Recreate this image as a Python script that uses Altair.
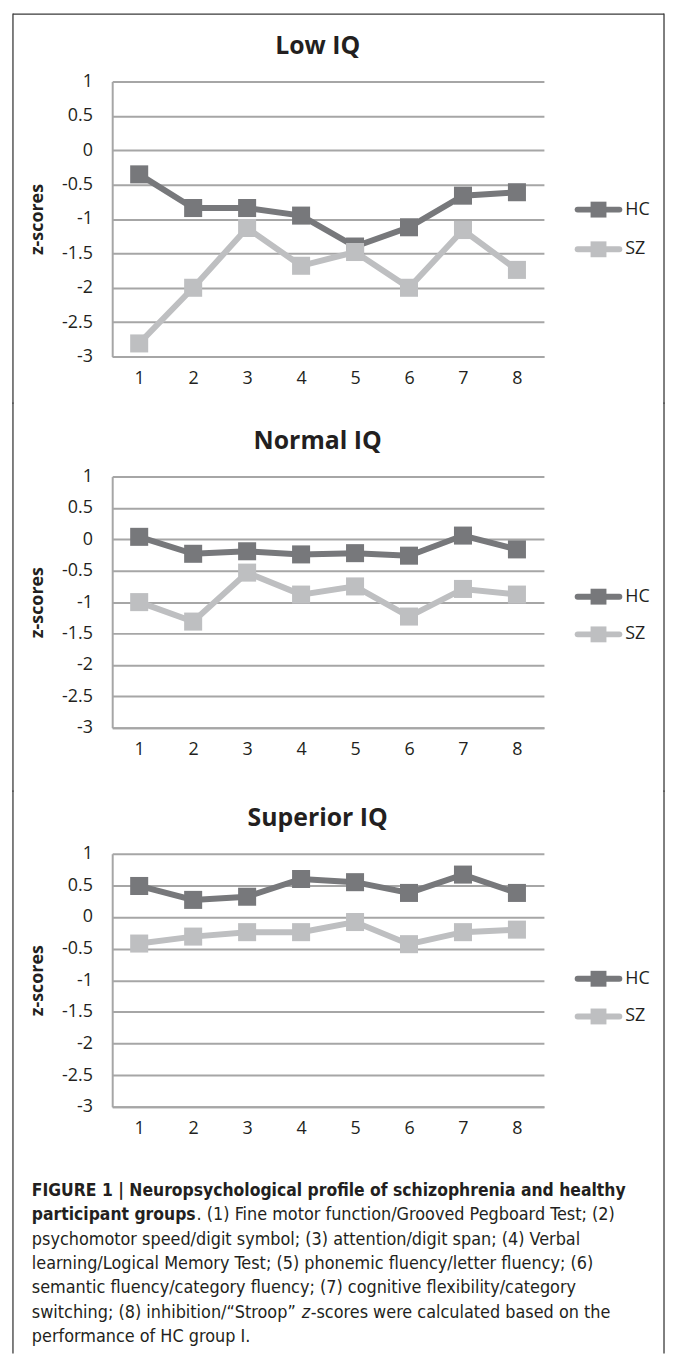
import altair as alt
import pandas as pd

# ---------------- data ----------------
tests = ["1", "2", "3", "4", "5", "6", "7", "8"]
series_names = ["HC", "SZ"]
panel_titles = ["Low IQ", "Normal IQ", "Superior IQ"]
y_ticks = [-3, -2.5, -2, -1.5, -1, -0.5, 0, 0.5, 1]

low_hc = [-0.35, -0.84, -0.84, -0.95, -1.40, -1.12, -0.66, -0.61]
low_sz = [-2.81, -2.00, -1.13, -1.68, -1.48, -2.00, -1.16, -1.74]
normal_hc = [0.04, -0.23, -0.19, -0.24, -0.22, -0.26, 0.06, -0.16]
normal_sz = [-1.00, -1.31, -0.53, -0.88, -0.75, -1.23, -0.79, -0.88]
superior_hc = [0.49, 0.27, 0.32, 0.60, 0.55, 0.38, 0.67, 0.38]
superior_sz = [-0.42, -0.31, -0.24, -0.24, -0.08, -0.43, -0.24, -0.20]

y_title = "z-scores"

cap_line1 = "FIGURE 1 | Neuropsychological profile of schizophrenia and healthy"
cap_line2_bold = "participant groups"
cap_line2_rest = ". (1) Fine motor function/Grooved Pegboard Test; (2)"
cap_line3 = "psychomotor speed/digit symbol; (3) attention/digit span; (4) Verbal"
cap_line4 = "learning/Logical Memory Test; (5) phonemic fluency/letter fluency; (6)"
cap_line5 = "semantic fluency/category fluency; (7) cognitive flexibility/category"
cap_line6_a = "switching; (8) inhibition/\u201cStroop\u201d"
cap_line6_z = "z"
cap_line6_b = "-scores were calculated based on the"
cap_line7 = "performance of HC group I."

# ---------------- style ----------------
HC_COL = "#77787b"
SZ_COL = "#bebfc1"
GRID = "#a6a6a6"
FRAME = "#3a3a3a"
TXT = "#231f20"
FONT = "Open Sans"
CAP_FONT = "DejaVu Sans Condensed, sans-serif"
W = 435
SER_COL = {"HC": HC_COL, "SZ": SZ_COL}


def one(df_col, val):
    return pd.DataFrame({df_col: [val]})


def text_layer(txt, x, y, size, weight="normal", style="normal", font=FONT, align="left"):
    return alt.Chart(one("t", txt)).mark_text(
        font=font, fontSize=size, fontWeight=weight, fontStyle=style,
        color=TXT, align=align, baseline="middle"
    ).encode(text="t:N", x=alt.value(x), y=alt.value(y))


def vrule(x, y1, y2):
    return alt.Chart(one("a", 0)).mark_rule(
        color=FRAME, strokeWidth=1.3, strokeCap="square"
    ).encode(x=alt.value(x), y=alt.value(y1), y2=alt.value(y2))


def panel(title, hc, sz, H, top_rel, bottom_rel, legend_y, top_line=False, extra=None):
    df = pd.DataFrame({
        "test": tests * 2,
        "series": ["HC"] * len(tests) + ["SZ"] * len(tests),
        "z": hc + sz,
    })
    base = alt.Chart(df).encode(
        x=alt.X("test:O", sort=tests,
                scale=alt.Scale(type="point", padding=0.5),
                axis=alt.Axis(title=None, labelAngle=0, ticks=False, labelPadding=13,
                              domainColor=GRID, domainWidth=2, grid=False,
                              labelFont=FONT, labelFontSize=18, labelColor=TXT)),
        y=alt.Y("z:Q", scale=alt.Scale(domain=[-3, 1], nice=False, zero=False),
                axis=alt.Axis(values=y_ticks, labelExpr="'' + datum.value",
                              ticks=False, labelPadding=20, grid=True,
                              gridColor=GRID, gridWidth=2, domainColor=GRID, domainWidth=2,
                              labelFont=FONT, labelFontSize=18, labelColor=TXT,
                              title=y_title, titleFont=FONT, titleFontSize=18,
                              titleFontWeight="bold", titleColor=TXT,
                              titleAngle=270, titleX=-75, titleY=H / 2,
                              titleBaseline="middle", titleAlign="center")),
        color=alt.Color("series:N",
                        scale=alt.Scale(domain=series_names, range=[HC_COL, SZ_COL]),
                        legend=None),
    )
    layers = []
    for s in series_names:
        f = base.transform_filter(alt.datum.series == s)
        layers.append(f.mark_line(strokeWidth=6))
        layers.append(f.mark_point(shape="square", filled=True, size=330, opacity=1))
    # legend (drawn by hand: line with a square in the middle)
    for s, ly in zip(series_names, legend_y):
        c = SER_COL[s]
        layers.append(alt.Chart(one("series", s)).mark_rule(
            color=c, strokeWidth=6, strokeCap="round"
        ).encode(x=alt.value(469), x2=alt.value(511), y=alt.value(ly)))
        layers.append(alt.Chart(one("series", s)).mark_point(
            shape="square", filled=True, size=256, opacity=1, color=c
        ).encode(x=alt.value(490), y=alt.value(ly)))
        layers.append(alt.Chart(one("series", s)).mark_text(
            font=FONT, fontSize=18, color=TXT, align="left", baseline="middle"
        ).encode(text="series:N", x=alt.value(517), y=alt.value(ly)))
    # panel title
    layers.append(text_layer(title, 207, -36, 25, weight="bold", align="center"))
    # frame
    layers.append(vrule(-100, top_rel, bottom_rel))
    layers.append(vrule(556, top_rel, bottom_rel))
    if top_line:
        layers.append(alt.Chart(one("a", 0)).mark_rule(color=FRAME, strokeWidth=1.3).encode(
            x=alt.value(-100), x2=alt.value(556), y=alt.value(top_rel)))
    if extra:
        layers.extend(extra)
    return alt.layer(*layers).properties(width=W, height=H)


# caption (inside the last panel, below its plot)
cx = -81
cy0 = 340
dy = 24.5
cb = 17.5
cs = 18
caption = [
    text_layer(cap_line1, cx, cy0, cb, weight="bold", font=CAP_FONT),
    text_layer(cap_line2_bold, cx, cy0 + dy, cb, weight="bold", font=CAP_FONT),
    text_layer(cap_line2_rest, cx + 166, cy0 + dy, cs, font=CAP_FONT),
    text_layer(cap_line3, cx, cy0 + 2 * dy, cs, font=CAP_FONT),
    text_layer(cap_line4, cx, cy0 + 3 * dy, cs, font=CAP_FONT),
    text_layer(cap_line5, cx, cy0 + 4 * dy, cs, font=CAP_FONT),
    text_layer(cap_line6_a, cx, cy0 + 5 * dy, cs, font=CAP_FONT),
    text_layer(cap_line6_z, cx + 272, cy0 + 5 * dy, cs, style="italic", font=CAP_FONT),
    text_layer(cap_line6_b, cx + 281, cy0 + 5 * dy, cs, font=CAP_FONT),
    text_layer(cap_line7, cx, cy0 + 6 * dy, cs, font=CAP_FONT),
]

p1 = panel(panel_titles[0], low_hc, low_sz, 277, -68, 324, [129, 169], top_line=True)
p2 = panel(panel_titles[1], normal_hc, normal_sz, 253, -74, 317, [121, 159])
p3 = panel(panel_titles[2], superior_hc, superior_sz, 255, -63, 503, [126, 164], extra=caption)

chart = alt.vconcat(p1, p2, p3, spacing=-2).properties(
    padding={"left": 4, "top": 0, "right": 0, "bottom": 0}
).configure_view(stroke=None)

chart.save("out.html", embed_options={"renderer": "svg", "actions": False})
